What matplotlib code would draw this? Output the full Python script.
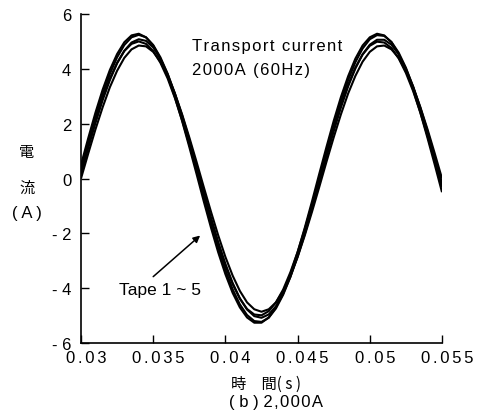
import matplotlib
matplotlib.use("Agg")
import matplotlib.pyplot as plt
from matplotlib.transforms import ScaledTranslation

TIME = [
    0.0300, 0.0305, 0.0310, 0.0315, 0.0320, 0.0325, 0.0330, 0.0335, 0.0340, 0.0345,
    0.0350, 0.0355, 0.0360, 0.0365, 0.0370, 0.0375, 0.0380, 0.0385, 0.0390, 0.0395,
    0.0400, 0.0405, 0.0410, 0.0415, 0.0420, 0.0425, 0.0430, 0.0435, 0.0440, 0.0445,
    0.0450, 0.0455, 0.0460, 0.0465, 0.0470, 0.0475, 0.0480, 0.0485, 0.0490, 0.0495,
    0.0500, 0.0505, 0.0510, 0.0515, 0.0520, 0.0525, 0.0530, 0.0535, 0.0540, 0.0545,
    0.0550,
]
TAPE1 = [
    0.50, 1.47, 2.40, 3.24, 3.96, 4.54, 4.97, 5.22, 5.28, 5.15,
    4.85, 4.37, 3.73, 2.97, 2.10, 1.15, 0.17, -0.83, -1.79, -2.69,
    -3.49, -4.17, -4.70, -5.07, -5.26, -5.26, -5.07, -4.70, -4.17, -3.49,
    -2.69, -1.79, -0.83, 0.17, 1.15, 2.10, 2.97, 3.73, 4.37, 4.85,
    5.15, 5.28, 5.22, 4.97, 4.54, 3.96, 3.24, 2.40, 1.47, 0.50,
    -0.50,
]
TAPE2 = [
    0.33, 1.30, 2.23, 3.08, 3.82, 4.42, 4.87, 5.15, 5.24, 5.15,
    4.87, 4.42, 3.82, 3.08, 2.23, 1.30, 0.33, -0.66, -1.62, -2.52,
    -3.34, -4.04, -4.59, -4.98, -5.20, -5.23, -5.08, -4.74, -4.24, -3.59,
    -2.81, -1.93, -0.98, 0.00, 0.98, 1.93, 2.81, 3.59, 4.24, 4.74,
    5.08, 5.23, 5.20, 4.98, 4.59, 4.04, 3.34, 2.52, 1.62, 0.66,
    -0.33,
]
TAPE3 = [
    0.16, 1.11, 2.02, 2.86, 3.59, 4.20, 4.66, 4.96, 5.08, 5.02,
    4.78, 4.37, 3.81, 3.11, 2.31, 1.42, 0.48, -0.48, -1.42, -2.31,
    -3.11, -3.81, -4.37, -4.78, -5.02, -5.08, -4.96, -4.66, -4.20, -3.59,
    -2.86, -2.02, -1.11, -0.16, 0.79, 1.72, 2.59, 3.36, 4.01, 4.53,
    4.88, 5.06, 5.06, 4.88, 4.53, 4.01, 3.36, 2.59, 1.72, 0.79,
    -0.16,
]
TAPE4 = [
    0.31, 1.24, 2.13, 2.94, 3.65, 4.22, 4.65, 4.91, 5.00, 4.91,
    4.65, 4.22, 3.65, 2.94, 2.13, 1.24, 0.31, -0.63, -1.55, -2.41,
    -3.19, -3.85, -4.38, -4.76, -4.96, -4.99, -4.84, -4.52, -4.05, -3.42,
    -2.68, -1.84, -0.94, 0.00, 0.94, 1.84, 2.68, 3.42, 4.05, 4.52,
    4.84, 4.99, 4.96, 4.76, 4.38, 3.85, 3.19, 2.41, 1.55, 0.63,
    -0.31,
]
TAPE5 = [
    0.00, 0.91, 1.79, 2.60, 3.33, 3.93, 4.40, 4.71, 4.85, 4.82,
    4.62, 4.26, 3.74, 3.10, 2.34, 1.50, 0.61, -0.31, -1.21, -2.07,
    -2.86, -3.54, -4.10, -4.52, -4.77, -4.86, -4.77, -4.52, -4.10, -3.54,
    -2.86, -2.07, -1.21, -0.31, 0.61, 1.50, 2.34, 3.10, 3.74, 4.26,
    4.62, 4.82, 4.85, 4.71, 4.40, 3.93, 3.33, 2.60, 1.79, 0.91,
    0.00,
]

XTICKS = [0.03, 0.035, 0.04, 0.045, 0.05, 0.055]
XTICK_LABELS = ["0.03", "0.035", "0.04", "0.045", "0.05", "0.055"]
YTICKS = [-6, -4, -2, 0, 2, 4, 6]
YTICK_LABELS = ["- 6", "- 4", "- 2", "0", "2", "4", "6"]

LATIN = ["Liberation Sans", "DejaVu Sans"]
CJK = ["Noto Sans CJK JP", "DejaVu Sans"]
HAIR = "\u200a"


def spaced(s: str, n: int = 1) -> str:
    # the original uses loose letter spacing
    return (HAIR * n).join(s)


W, H = 481, 414


def fx(px: float) -> float:
    return px / W


def fy(py: float) -> float:
    return 1 - py / H


fig = plt.figure(figsize=(W / 100, H / 100), dpi=100)
fig.patch.set_facecolor("white")
ax = fig.add_axes([fx(81), fy(344), fx(442) - fx(81), fy(15) - fy(344)])

for tape in (TAPE1, TAPE2, TAPE3, TAPE4, TAPE5):
    ax.plot(TIME, tape, color="black", linewidth=1.5, solid_capstyle="butt")

ax.set_xlim(0.03, 0.055)
ax.set_ylim(-6, 6)
ax.spines["top"].set_visible(False)
ax.spines["right"].set_visible(False)
for side in ("left", "bottom"):
    ax.spines[side].set_linewidth(1.2)
ax.tick_params(direction="in", length=6, width=1.0, colors="black")
ax.tick_params(axis="y", pad=7)
ax.tick_params(axis="x", pad=5)
ax.set_xticks(XTICKS)
ax.set_xticklabels([spaced(s, 2) for s in XTICK_LABELS], family=LATIN, fontsize=12)
# labels in the original sit a few pixels right of their ticks
shift = ScaledTranslation(5 / 100, 0, fig.dpi_scale_trans)
for lab in ax.get_xticklabels():
    lab.set_transform(lab.get_transform() + shift)
ax.set_yticks(YTICKS)
ax.set_yticklabels(YTICK_LABELS, family=LATIN, fontsize=12)

ax.text(0.0377, 4.85, spaced("Transport current"), family=LATIN, fontsize=12,
        ha="left", va="center")
ax.text(0.0377, 3.98, spaced("2000A (60Hz)"), family=LATIN, fontsize=12,
        ha="left", va="center")

ax.annotate("", xy=(0.03825, -2.08), xytext=(0.0350, -3.58),
            arrowprops=dict(arrowstyle="-|>", color="black", lw=1.1,
                            mutation_scale=10, shrinkA=0, shrinkB=0))
ax.text(0.03548, -4.05, "Tape 1 ~ 5", family=LATIN, fontsize=12.5,
        ha="center", va="center")

# stacked y label
fig.text(fx(27), fy(153), "電", family=CJK, fontsize=11, ha="center", va="center")
fig.text(fx(27), fy(188), "流", family=CJK, fontsize=11, ha="center", va="center")
fig.text(fx(27), fy(214), "( A )", family=LATIN, fontsize=12, ha="center", va="center")

fig.text(fx(266), fy(384), "時\u3000間( s )", family=CJK,
         fontsize=11, ha="center", va="center")
fig.text(fx(276), fy(403), "( b ) " + spaced("2,000A"), family=LATIN,
         fontsize=12, ha="center", va="center")

fig.savefig("out.png", dpi=100)
